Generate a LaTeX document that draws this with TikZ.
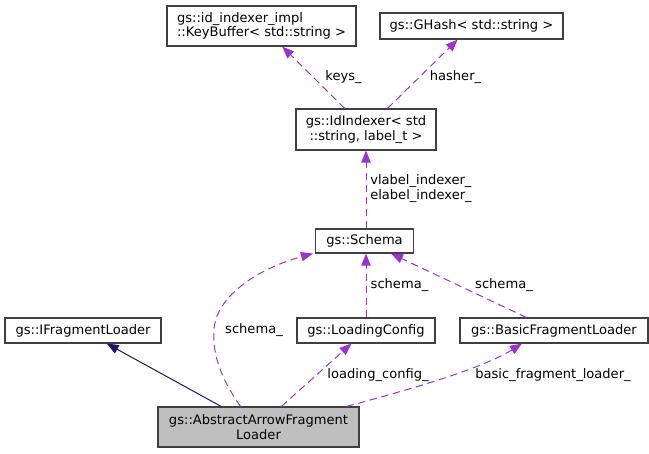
\documentclass[tikz,border=0pt]{standalone}
\usepackage{fontspec}
\setmainfont{DejaVu Sans}
\usetikzlibrary{arrows.meta,calc}
\definecolor{edgepurple}{HTML}{9A32CD}
\definecolor{edgenavy}{HTML}{191970}
\definecolor{boxline}{HTML}{404040}
\definecolor{boxgray}{HTML}{BFBFBF}
\begin{document}
\begin{tikzpicture}[x=0.75pt,y=-0.75pt,
  every node/.style={font=\fontsize{9.8}{11}\selectfont},
  cls/.style={draw=boxline,line width=0.8pt,fill=white,inner sep=0pt,align=center},
  usedby/.style={draw=edgepurple,line width=0.75pt,dash pattern=on 5.5pt off 3.5pt,
     -{Triangle[length=9pt,width=7pt,fill=edgepurple]}},
  inherit/.style={draw=edgenavy,line width=0.75pt,
     -{Triangle[length=9pt,width=7pt,fill=edgenavy]}},
  elabel/.style={inner sep=0pt,text=black}]
\useasboundingbox (0,0) rectangle (649,453);
\node[cls,minimum width=189*0.75pt,minimum height=40*0.75pt,align=left] (keybuf) at (261.5,26)
  {gs::id\_indexer\_impl\\::KeyBuffer< std::string >};
\node[cls,minimum width=183*0.75pt,minimum height=26*0.75pt] (ghash) at (471.5,26)
  {gs::GHash< std::string >};
\node[cls,minimum width=140*0.75pt,minimum height=41*0.75pt] (idx) at (366,129.5)
  {gs::IdIndexer< std\\::string, label\_t >};
\node[cls,minimum width=98*0.75pt,minimum height=24*0.75pt] (schema) at (364.5,241)
  {gs::Schema};
\node[cls,minimum width=156*0.75pt,minimum height=25*0.75pt] (ifl) at (83,330.5)
  {gs::IFragmentLoader};
\node[cls,minimum width=138*0.75pt,minimum height=25*0.75pt] (lc) at (366,330.5)
  {gs::LoadingConfig};
\node[cls,minimum width=188*0.75pt,minimum height=25*0.75pt] (bfl) at (554,330.5)
  {gs::BasicFragmentLoader};
\node[cls,fill=boxgray,minimum width=201*0.75pt,minimum height=40*0.75pt] (aafl) at (258.5,427)
  {gs::AbstractArrowFragment\\Loader};

% edges
\draw[usedby] (idx) -- (keybuf);
\draw[usedby] (idx) -- (ghash);
\draw[usedby] (schema.north -| idx.south) -- (idx.south);
\draw[usedby] (lc.north) -- (lc.north |- schema.south);
\draw[usedby] (bfl) -- (schema);
\draw[inherit] (aafl) -- (ifl);
\draw[usedby] (aafl) -- (lc);
\coordinate (bflstart) at ($(aafl.north east)+(-13,0)$);
\draw[usedby] (bflstart) .. controls (400,392) and (480,370) .. ($(bfl.south)+(-32,0)$);
\coordinate (schstart) at ($(aafl.north)+(-18,0)$);
\draw[usedby] (schstart) .. controls (222,380) and (212,355) .. (214,330)
   .. controls (216,295) and (260,268) .. ($(schema.south west)+(-2,0)$);

% edge labels
\node[elabel] (lkeys) at (343.5,77) {keys\_};
\node[elabel] (lhash) at (455.5,77) {hasher\_};
\node[elabel,align=left] (lidx) at (421,188.5) {vlabel\_indexer\_\\elabel\_indexer\_};
\node[elabel] (lsch1) at (254,330) {schema\_};
\node[elabel] (lsch2) at (399.5,285) {schema\_};
\node[elabel] (lsch3) at (504,285) {schema\_};
\node[elabel] (llc) at (378,375) {loading\_config\_};
\node[elabel] (lbfl) at (553,375) {basic\_fragment\_loader\_};
\end{tikzpicture}
\end{document}
